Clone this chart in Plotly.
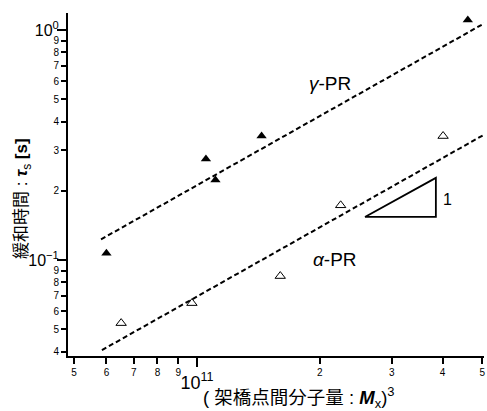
import plotly.graph_objects as go
import numpy as np

# ---- data ----
gamma_x = [6.0e10, 1.052e11, 1.11e11, 1.44e11, 4.61e11]
gamma_y = [0.107, 0.275, 0.223, 0.346, 1.105]
alpha_x = [6.52e10, 9.72e10, 1.60e11, 2.25e11, 4.01e11]
alpha_y = [0.0532, 0.065, 0.0852, 0.173, 0.346]

gamma_fit_x = [5.82e10, 5.1e11]
gamma_fit_y = [0.123, 1.078]
alpha_fit_x = [5.85e10, 5.1e11]
alpha_fit_y = [0.0406, 0.354]

slope_x = [2.58e11, 3.85e11, 3.85e11, 2.58e11]
slope_y = [0.154, 0.154, 0.2277, 0.154]

x_minor_vals = [5e10, 6e10, 7e10, 8e10, 9e10, 2e11, 3e11, 4e11, 5e11]
x_minor_text = ["5", "6", "7", "8", "9", "2", "3", "4", "5"]
x_major_vals = [1e11]
x_major_text = ["10<sup>11</sup>"]

y_minor_vals = [0.04, 0.05, 0.06, 0.07, 0.08, 0.09, 0.2, 0.3, 0.4, 0.5, 0.6, 0.7, 0.8, 0.9]
y_minor_text = ["4", "5", "6", "7", "8", "9", "2", "3", "4", "5", "6", "7", "8", "9"]
y_major_vals = [0.1, 1.0]
y_major_text = ["10<sup>−1</sup>", "10<sup>0</sup>"]

x_range = [10.684, 11.7034]
y_range = [-1.417, 0.0739]

FONT = "Liberation Sans, Arial, Noto Sans CJK JP, sans-serif"

fig = go.Figure()

fig.add_trace(go.Scatter(x=gamma_fit_x, y=gamma_fit_y, mode="lines",
                         line=dict(color="black", width=2, dash="5px,3px"),
                         showlegend=False, hoverinfo="skip"))
fig.add_trace(go.Scatter(x=alpha_fit_x, y=alpha_fit_y, mode="lines",
                         line=dict(color="black", width=2, dash="5px,3px"),
                         showlegend=False, hoverinfo="skip"))
fig.add_trace(go.Scatter(x=slope_x, y=slope_y, mode="lines",
                         line=dict(color="black", width=1.8),
                         showlegend=False, hoverinfo="skip"))
fig.add_trace(go.Scatter(x=gamma_x, y=gamma_y, mode="markers",
                         marker=dict(symbol="triangle-up", size=9, color="black"),
                         showlegend=False))
fig.add_trace(go.Scatter(x=alpha_x, y=alpha_y, mode="markers",
                         marker=dict(symbol="triangle-up-open", size=9, color="black",
                                     line=dict(color="black", width=1)),
                         showlegend=False))
# dummy trace for overlay axes
fig.add_trace(go.Scatter(x=[], y=[], xaxis="x2", yaxis="y2", showlegend=False))

common = dict(type="log", showgrid=False, zeroline=False, automargin=False)

fig.update_layout(
    template="none",
    width=487, height=411,
    margin=dict(l=68, r=3, t=13, b=55),
    paper_bgcolor="white", plot_bgcolor="white",
    font=dict(family=FONT, color="black"),
    showlegend=False,
    xaxis=dict(**common, range=x_range,
               showline=True, linecolor="black", linewidth=2,
               ticks="outside", ticklen=6, tickwidth=1.5, tickcolor="black",
               tickvals=x_minor_vals, ticktext=x_minor_text,
               tickfont=dict(size=10, family=FONT)),
    yaxis=dict(**common, range=y_range,
               showline=True, linecolor="black", linewidth=2,
               ticks="outside", ticklen=5, tickwidth=1.5, tickcolor="black",
               tickvals=y_minor_vals, ticktext=y_minor_text,
               tickfont=dict(size=10, family=FONT)),
    xaxis2=dict(**common, range=x_range, overlaying="x", anchor="y", side="bottom",
                showline=False,
                ticks="outside", ticklen=10, tickwidth=2, tickcolor="black",
                tickvals=x_major_vals, ticktext=x_major_text,
                tickfont=dict(size=18, family=FONT)),
    yaxis2=dict(**common, range=y_range, overlaying="y", anchor="x", side="left",
                showline=False,
                ticks="outside", ticklen=10, tickwidth=2, tickcolor="black",
                tickvals=y_major_vals, ticktext=y_major_text,
                tickfont=dict(size=16, family=FONT), ticklabelstandoff=-5),
)

annotations = [
    dict(x=np.log10(2.12e11), y=np.log10(0.588), xref="x", yref="y",
         text="<i>γ</i>-PR", showarrow=False, font=dict(size=19, family=FONT)),
    dict(x=np.log10(2.18e11), y=np.log10(0.101), xref="x", yref="y",
         text="<i>α</i>-PR", showarrow=False, font=dict(size=19, family=FONT)),
    dict(x=np.log10(4.12e11), y=np.log10(0.184), xref="x", yref="y",
         text="1", showarrow=False, font=dict(size=16, family=FONT)),
    dict(x=0.555, y=-0.122, xref="paper", yref="paper",
         text="( 架橋点間分子量 : <b><i>M</i></b><sub>x</sub>)<sup>3</sup>",
         showarrow=False, font=dict(size=18.5, family=FONT),
         xanchor="center", yanchor="middle"),
    dict(x=-0.108, y=0.458, xref="paper", yref="paper",
         text="緩和時間 : <b><i>τ</i></b><sub>s</sub> <b>[s]</b>",
         textangle=-90, showarrow=False, font=dict(size=17, family=FONT),
         xanchor="center", yanchor="middle"),
]
fig.update_layout(annotations=annotations)

fig.write_html("out.html",
               config={"displayModeBar": False},
               post_script="document.body.style.margin='0px';document.body.style.overflow='hidden';")
